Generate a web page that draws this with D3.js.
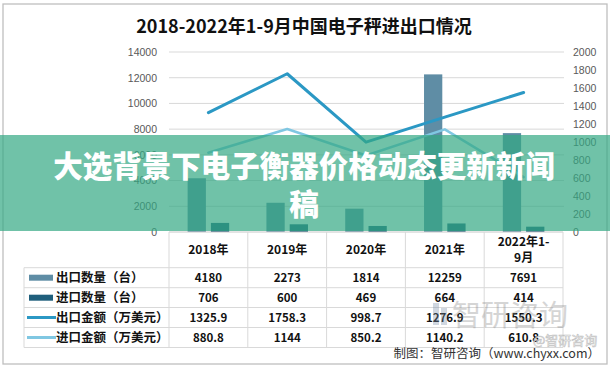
<!DOCTYPE html>
<html><head><meta charset="utf-8">
<script src="https://cdn.jsdelivr.net/npm/d3@7"></script>
<style>body{margin:0;background:#fff;}svg{display:block;}</style>
</head><body><svg id="c" width="610" height="367"></svg>
<script>
const categories = ["2018年","2019年","2020年","2021年","2022年1-9月"];
const categoryLines = [["2018年"],["2019年"],["2020年"],["2021年"],["2022年1-","9月"]];
const exportQty = [4180, 2273, 1814, 12259, 7691];
const importQty = [706, 600, 469, 664, 414];
const exportAmt = [1325.9, 1758.3, 998.7, 1276.9, 1550.3];
const importAmt = [880.8, 1144, 850.2, 1140.2, 610.8];
const leftTicks = [0,2000,4000,6000,8000,10000,12000,14000];
const rightTicks = [0,200,400,600,800,1000,1200,1400,1600,1800,2000];
const seriesNames = ["出口数量（台）","进口数量（台）","出口金额（万美元）","进口金额（万美元）"];
const seriesValueText = [
  ["4180","2273","1814","12259","7691"],
  ["706","600","469","664","414"],
  ["1325.9","1758.3","998.7","1276.9","1550.3"],
  ["880.8","1144","850.2","1140.2","610.8"]
];
const title = "2018-2022年1-9月中国电子秤进出口情况";
const bannerLines = ["大选背景下电子衡器价格动态更新新闻","稿"];
const footer = "制图：智研咨询（www.chyxx.com）";

const colors = {exQ:"#5F8DA5", imQ:"#1F5F7C", exA:"#2B98C4", imA:"#80C7E2"};
const CJK = "'Noto Sans CJK SC','Noto Sans',sans-serif";
const svg = d3.select("#c");

// outer border
svg.append("rect").attr("x",3).attr("y",4).attr("width",604).attr("height",360)
  .attr("fill","#fff").attr("stroke","#bfbfbf").attr("stroke-width",1.3);

// title
svg.append("text").attr("x",304).attr("y",33).attr("text-anchor","middle")
  .attr("font-family",CJK).attr("font-weight","bold").attr("font-size",18).attr("fill","#111")
  .text(title);

const x = d3.scaleBand().domain(categories).range([169,563]).paddingInner(0).paddingOuter(0);
const xs = d3.scaleBand().domain(["ex","im"]).range([0,x.bandwidth()]).paddingInner(0.215).paddingOuter(0.8);
const yL = d3.scaleLinear().domain([0,14000]).range([232,52]);
const yR = d3.scaleLinear().domain([0,2000]).range([232,52]);

// gridlines
svg.append("g").selectAll("line").data(leftTicks.slice(1)).join("line")
  .attr("x1",169).attr("x2",564).attr("y1",d=>yL(d)).attr("y2",d=>yL(d))
  .attr("stroke","#d9d9d9").attr("stroke-width",1);

// axes
const axL = svg.append("g").attr("transform","translate(169,0)")
  .call(d3.axisLeft(yL).tickValues(leftTicks).tickSize(0).tickPadding(12).tickFormat(d3.format("d")));
axL.select(".domain").remove();
axL.selectAll("text").attr("font-family","'Liberation Sans',sans-serif").attr("font-size",10.5).attr("fill","#595959");
const axR = svg.append("g").attr("transform","translate(563,0)")
  .call(d3.axisRight(yR).tickValues(rightTicks).tickSize(0).tickPadding(10).tickFormat(d3.format("d")));
axR.select(".domain").remove();
axR.selectAll("text").attr("font-family","'Liberation Sans',sans-serif").attr("font-size",10.5).attr("fill","#595959");

// bars
const gb = svg.append("g");
gb.selectAll("rect.ex").data(exportQty).join("rect").attr("class","ex")
  .attr("x",(d,i)=>x(categories[i])+xs("ex")).attr("width",xs.bandwidth())
  .attr("y",d=>yL(d)).attr("height",d=>yL(0)-yL(d)).attr("fill",colors.exQ);
gb.selectAll("rect.im").data(importQty).join("rect").attr("class","im")
  .attr("x",(d,i)=>x(categories[i])+xs("im")).attr("width",xs.bandwidth())
  .attr("y",d=>yL(d)).attr("height",d=>yL(0)-yL(d)).attr("fill",colors.imQ);

// lines
const cx = i => x(categories[i]) + x.bandwidth()/2;
const line = d3.line().x((d,i)=>cx(i)).y(d=>yR(d));
svg.append("path").datum(importAmt).attr("d",line).attr("fill","none")
  .attr("stroke",colors.imA).attr("stroke-width",2.6).attr("stroke-linejoin","round").attr("stroke-linecap","round");
svg.append("path").datum(exportAmt).attr("d",line).attr("fill","none")
  .attr("stroke",colors.exA).attr("stroke-width",3).attr("stroke-linejoin","round").attr("stroke-linecap","round");

// table
const rowTop = [267.7,287.7,307.5,327.5];
const rowH = 20;
const tg = svg.append("g");
const lc = "#d9d9d9";
// axis baseline / header top
tg.append("line").attr("x1",169).attr("x2",563).attr("y1",232).attr("y2",232).attr("stroke","#c8c8c8");
// header column separators
x.domain().concat(["end"]).forEach((c,i)=>{
  const xx = i<categories.length ? x(c) : 563;
  tg.append("line").attr("x1",xx).attr("x2",xx).attr("y1",232).attr("y2",347.5).attr("stroke",lc);
});
// horizontal row lines
rowTop.concat([347.5]).forEach(y=>{
  tg.append("line").attr("x1",24).attr("x2",563).attr("y1",y).attr("y2",y).attr("stroke",lc);
});
tg.append("line").attr("x1",24).attr("x2",24).attr("y1",267.7).attr("y2",347.5).attr("stroke",lc);

// header text
categoryLines.forEach((ls,i)=>{
  const t = tg.append("text").attr("x",cx(i)).attr("text-anchor","middle")
    .attr("font-family",CJK).attr("font-weight","bold").attr("font-size",12).attr("fill","#111");
  if(ls.length===1){ t.append("tspan").attr("x",cx(i)).attr("y",254).text(ls[0]); }
  else { t.append("tspan").attr("x",cx(i)).attr("y",246).text(ls[0]);
         t.append("tspan").attr("x",cx(i)).attr("y",262).text(ls[1]); }
});
// legend swatches & labels
const swCol = [colors.exQ, colors.imQ, colors.exA, colors.imA];
seriesNames.forEach((n,r)=>{
  const yc = rowTop[r] + rowH/2;
  if(r<2) tg.append("rect").attr("x",29).attr("y",yc-3).attr("width",24).attr("height",6).attr("fill",swCol[r]);
  else tg.append("line").attr("x1",27).attr("x2",56).attr("y1",yc).attr("y2",yc).attr("stroke",swCol[r]).attr("stroke-width",3);
  tg.append("text").attr("x",56).attr("y",yc+4.5).attr("font-family",CJK).attr("font-weight","bold")
    .attr("font-size",12.5).attr("fill","#111").text(n);
  seriesValueText[r].forEach((v,i)=>{
    tg.append("text").attr("x",cx(i)).attr("y",yc+4.5).attr("text-anchor","middle")
      .attr("font-family",CJK).attr("font-weight","bold").attr("font-size",11.5).attr("fill","#111").text(v);
  });
});

// watermark
const wm = svg.append("g").attr("opacity",0.35);
wm.append("rect").attr("x",433).attr("y",303).attr("width",6).attr("height",22).attr("fill","#7a8fa8");
wm.append("rect").attr("x",441).attr("y",308).attr("width",6).attr("height",17).attr("fill","#7a8fa8");
wm.append("text").attr("x",452).attr("y",326).attr("font-family",CJK).attr("font-size",29).attr("fill","#8a8a8a").text("智研咨询");
svg.append("text").attr("x",533).attr("y",345).attr("font-family",CJK).attr("font-size",13)
  .attr("fill","#fff").attr("stroke","#bbb").attr("stroke-width",0.6).attr("opacity",0.9).text("@智研咨询");

// footer
svg.append("text").attr("x",600).attr("y",358).attr("text-anchor","end")
  .attr("font-family",CJK).attr("font-size",12.5).attr("fill","#333").text(footer);

// banner overlay
svg.append("rect").attr("x",0).attr("y",135).attr("width",610).attr("height",96)
  .attr("fill","rgb(51,168,131)").attr("opacity",0.7);
bannerLines.forEach((t,i)=>{
  svg.append("text").attr("x",304).attr("y",177+i*38).attr("text-anchor","middle")
    .attr("font-family",CJK).attr("font-weight",900).attr("font-size",29.5).attr("fill","#fff").text(t);
});
</script></body></html>
